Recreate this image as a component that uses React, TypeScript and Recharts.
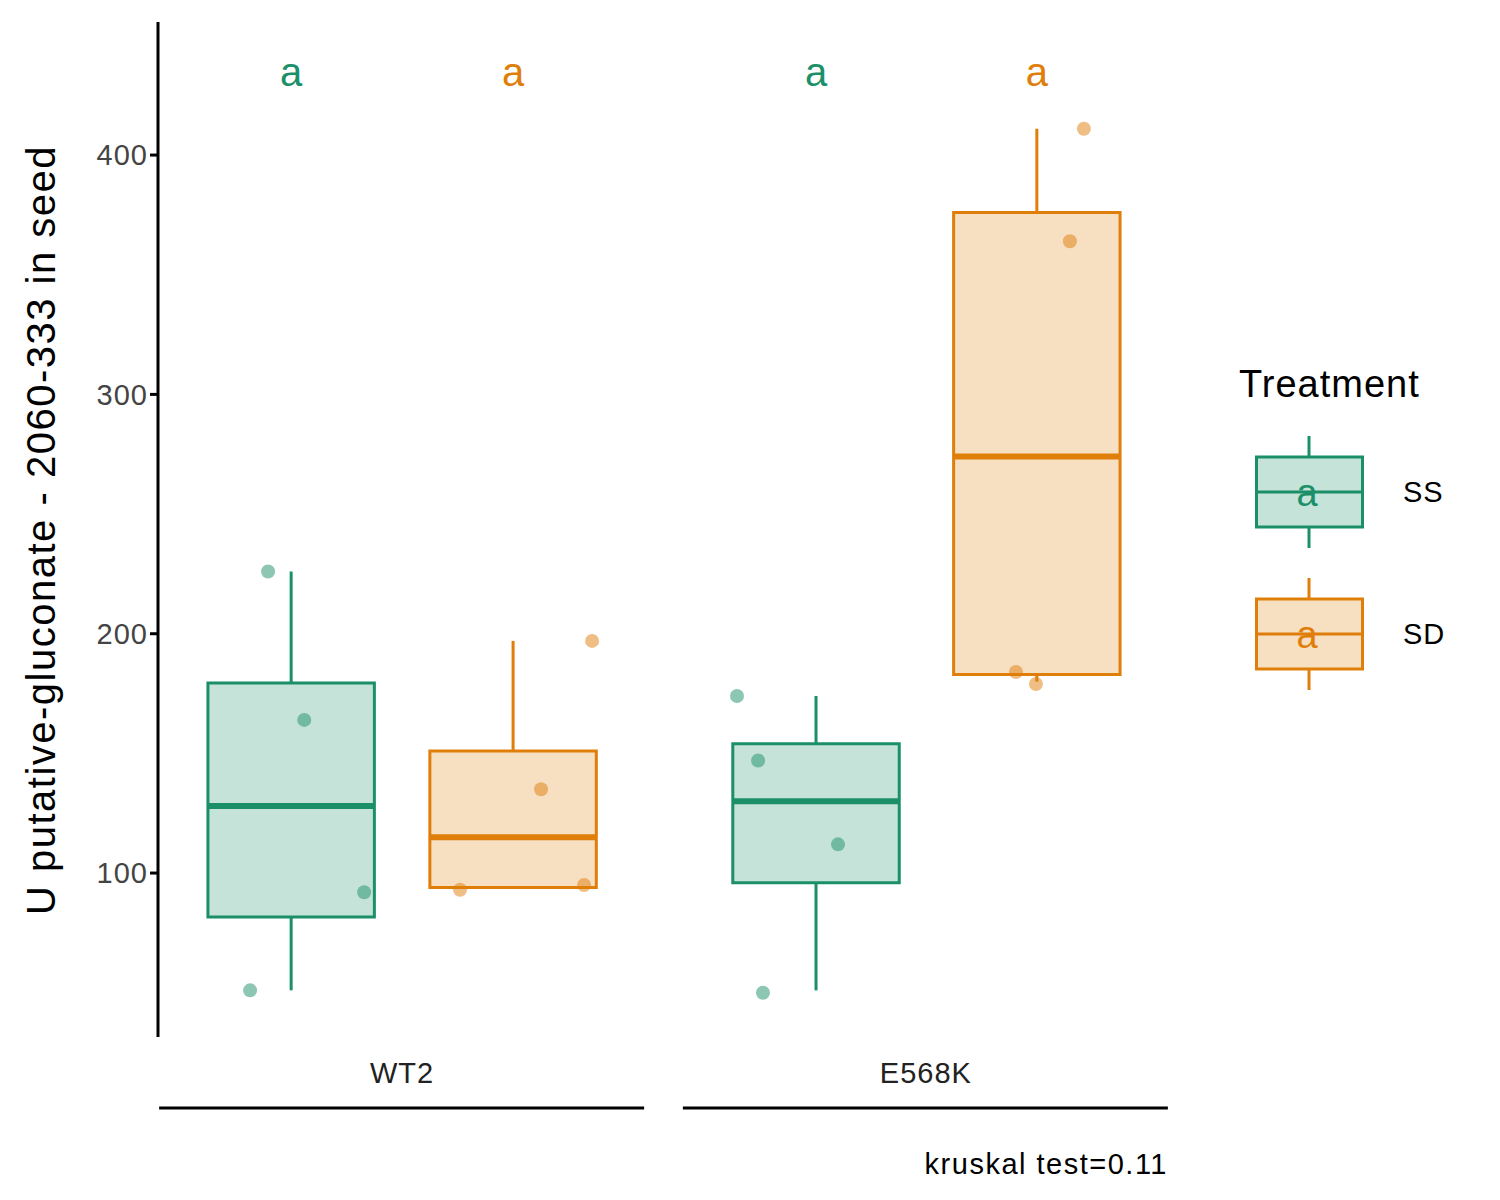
import React from "react";
import {
  ComposedChart,
  Scatter,
  XAxis,
  YAxis,
  ReferenceArea,
  ReferenceLine,
  ReferenceDot,
} from "recharts";

const GREEN = "#1B9068";
const ORANGE = "#E07E0A";

// box positions on numeric x axis
const boxX = [1, 2, 3.365, 4.36];
const boxColor = [GREEN, ORANGE, GREEN, ORANGE];
const q1 = [81.6, 94, 96, 183];
const median = [128, 115, 130, 274];
const q3 = [179.4, 151, 154, 376];
const whiskLo = [51, 94, 51, 180];
const whiskHi = [226, 197, 174, 411];

const ssPoints = [
  { x: 0.896, y: 226 }, { x: 1.059, y: 164 }, { x: 1.329, y: 92 }, { x: 0.815, y: 51 },
  { x: 3.009, y: 174 }, { x: 3.104, y: 147 }, { x: 3.464, y: 112 }, { x: 3.126, y: 50 },
];
const sdPoints = [
  { x: 1.761, y: 93 }, { x: 2.126, y: 135 }, { x: 2.32, y: 95 }, { x: 2.356, y: 197 },
  { x: 4.266, y: 184 }, { x: 4.356, y: 179 }, { x: 4.509, y: 364 }, { x: 4.572, y: 411 },
];

const groupTicks = [1.5, 3.86];
const groupLabels: Record<string, string> = { "1.5": "WT2", "3.86": "E568K" };
const yTicks = [100, 200, 300, 400];
const letterY = 434.7;

const HALF = 0.375;

const GroupTick = (props: any) => {
  const { x, y, payload } = props;
  return (
    <g>
      <text x={x} y={y + 38} textAnchor="middle" fontSize={29} letterSpacing={1} fill="#222" fontFamily="Liberation Sans, Arial">
        {groupLabels[String(payload.value)]}
      </text>
      <line x1={x - 243} x2={x + 242} y1={y + 63} y2={y + 63} stroke="#000" strokeWidth={3} />
    </g>
  );
};

const LegendKey = ({ color }: { color: string }) => (
  <svg width={110} height={115}>
    <line x1={54} x2={54} y1={0} y2={112} stroke={color} strokeWidth={3} />
    <rect x={1.5} y={21} width={106} height={70} fill="#fff" />
    <rect x={1.5} y={21} width={106} height={70} fill={color} fillOpacity={0.25} stroke={color} strokeWidth={3} />
    <line x1={1.5} x2={107.5} y1={56} y2={56} stroke={color} strokeWidth={3} />
    <text x={52} y={70} textAnchor="middle" fontSize={38} fill={color} fontFamily="Liberation Sans, Arial">a</text>
  </svg>
);

export default function App() {
  return (
    <div style={{ position: "relative", width: 1492, height: 1192, fontFamily: "Liberation Sans, Arial" }}>
      <ComposedChart width={1492} height={1192} margin={{ top: 14, right: 330, bottom: 63, left: 0 }}>
        <XAxis
          type="number"
          dataKey="x"
          domain={[0.4, 4.96]}
          ticks={groupTicks}
          axisLine={false}
          tickLine={false}
          height={100}
          tick={<GroupTick />}
          interval={0}
        />
        <YAxis
          type="number"
          dataKey="y"
          domain={[31.5, 455.6]}
          ticks={yTicks}
          width={150}
          axisLine={{ stroke: "#000", strokeWidth: 3 }}
          tickLine={{ stroke: "#000", strokeWidth: 3 }}
          tickSize={8}
          tick={{ fontSize: 29, fill: "#444", letterSpacing: 1 }}
          allowDataOverflow
        />
        {boxX.map((bx, i) => (
          <ReferenceLine
            key={"wl" + i}
            segment={[{ x: bx, y: whiskLo[i] }, { x: bx, y: q1[i] }]}
            stroke={boxColor[i]}
            strokeWidth={3}
          />
        ))}
        {boxX.map((bx, i) => (
          <ReferenceLine
            key={"wh" + i}
            segment={[{ x: bx, y: q3[i] }, { x: bx, y: whiskHi[i] }]}
            stroke={boxColor[i]}
            strokeWidth={3}
          />
        ))}
        {boxX.map((bx, i) => (
          <ReferenceArea
            key={"b" + i}
            x1={bx - HALF}
            x2={bx + HALF}
            y1={q1[i]}
            y2={q3[i]}
            fill={boxColor[i]}
            fillOpacity={0.25}
            stroke={boxColor[i]}
            strokeWidth={3}
            strokeOpacity={1}
          />
        ))}
        {boxX.map((bx, i) => (
          <ReferenceLine
            key={"m" + i}
            segment={[{ x: bx - HALF, y: median[i] }, { x: bx + HALF, y: median[i] }]}
            stroke={boxColor[i]}
            strokeWidth={6}
          />
        ))}
        <Scatter data={ssPoints} fill={GREEN} fillOpacity={0.5} isAnimationActive={false}
          shape={(p: any) => <circle cx={p.cx} cy={p.cy} r={7} fill={GREEN} fillOpacity={0.5} />} />
        <Scatter data={sdPoints} fill={ORANGE} fillOpacity={0.5} isAnimationActive={false}
          shape={(p: any) => <circle cx={p.cx} cy={p.cy} r={7} fill={ORANGE} fillOpacity={0.5} />} />
        {boxX.map((bx, i) => (
          <ReferenceDot
            key={"l" + i}
            x={bx}
            y={letterY}
            r={0}
            stroke="none"
            label={{ value: "a", fill: boxColor[i], fontSize: 40, position: "center" }}
          />
        ))}
      </ComposedChart>
      <div
        style={{
          position: "absolute",
          left: 33,
          top: 522,
          transform: "translate(-50%, -50%) rotate(-90deg)",
          whiteSpace: "nowrap",
          fontSize: 40,
          letterSpacing: 1.5,
          color: "#000",
        }}
      >
        U putative-gluconate - 2060-333 in seed
      </div>
      <div style={{ position: "absolute", right: 332, top: 1140, fontSize: 29, letterSpacing: 1.5, color: "#000" }}>
        kruskal test=0.11
      </div>
      <div style={{ position: "absolute", left: 1231, top: 355, fontSize: 38, letterSpacing: 1 }}>Treatment</div>
      <div style={{ position: "absolute", left: 1247, top: 428 }}><LegendKey color={GREEN} /></div>
      <div style={{ position: "absolute", left: 1247, top: 570 }}><LegendKey color={ORANGE} /></div>
      <div style={{ position: "absolute", left: 1395, top: 468, fontSize: 29, letterSpacing: 1 }}>SS</div>
      <div style={{ position: "absolute", left: 1395, top: 610, fontSize: 29, letterSpacing: 1 }}>SD</div>
    </div>
  );
}
